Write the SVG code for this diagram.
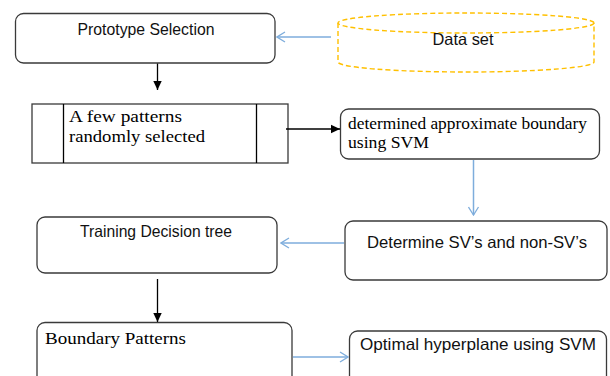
<svg xmlns="http://www.w3.org/2000/svg" width="610" height="376" viewBox="0 0 610 376">
<defs>
<marker id="blueArrow" markerUnits="userSpaceOnUse" markerWidth="12" markerHeight="12" viewBox="0 0 12 12" refX="11" refY="6" orient="auto">
<path d="M3,1 L11,6 L3,11" fill="none" stroke="#7EADDC" stroke-width="1.3"/>
</marker>
<marker id="blackArrow" markerUnits="userSpaceOnUse" markerWidth="10" markerHeight="10" viewBox="0 0 10 10" refX="9" refY="5" orient="auto">
<path d="M0,0.8 L9,5 L0,9.2 Z" fill="#000"/>
</marker>
<style>
.box{fill:#fff;stroke:#3a3a3a;stroke-width:1.3}
.sans{font-family:"Liberation Sans",Arial,sans-serif;font-size:16.5px;fill:#111}
.serif{font-family:"Liberation Serif","Times New Roman",serif;font-size:17.5px;fill:#000}
.blue{stroke:#7EADDC;stroke-width:1.5;fill:none}
.black{stroke:#000;stroke-width:1.3;fill:none}
</style>
</defs>
<g id="prototype-selection">
<rect class="box" x="15.5" y="13.5" width="259.5" height="49.5" rx="8"/>
<text class="sans" x="146" y="35" text-anchor="middle" textLength="137" lengthAdjust="spacingAndGlyphs">Prototype Selection</text>
</g>
<g id="data-set">
<path d="M338,23 L338,62 A128,10 0 0 0 594,62 L594,23" fill="#fff" stroke="#FFC000" stroke-width="1.4" stroke-dasharray="5,3"/>
<ellipse cx="466" cy="23" rx="128" ry="10" fill="#fff" stroke="#FFC000" stroke-width="1.4" stroke-dasharray="5,3"/>
<text class="sans" x="463" y="45" text-anchor="middle" textLength="61" lengthAdjust="spacingAndGlyphs">Data set</text>
</g>
<g id="random-patterns">
<rect class="box" x="32" y="104" width="256" height="59" fill="#fff" stroke="#000"/>
<line x1="63.5" y1="104" x2="63.5" y2="163" stroke="#000" stroke-width="1.3"/>
<line x1="256.5" y1="104" x2="256.5" y2="163" stroke="#000" stroke-width="1.3"/>
<text class="serif" x="69" y="122" textLength="113" lengthAdjust="spacingAndGlyphs">A few patterns</text>
<text class="serif" x="69" y="142" textLength="136" lengthAdjust="spacingAndGlyphs">randomly selected</text>
</g>
<g id="approx-boundary">
<rect class="box" x="340.5" y="109" width="259" height="50" rx="8"/>
<text class="serif" x="348" y="129" textLength="239" lengthAdjust="spacingAndGlyphs">determined approximate boundary</text>
<text class="serif" x="348" y="148" textLength="81" lengthAdjust="spacingAndGlyphs">using SVM</text>
</g>
<g id="training-decision-tree">
<rect class="box" x="37" y="217" width="240" height="56" rx="8"/>
<text class="sans" x="156" y="237" text-anchor="middle" textLength="152" lengthAdjust="spacingAndGlyphs">Training Decision tree</text>
</g>
<g id="determine-sv">
<rect class="box" x="345" y="221" width="262" height="59" rx="8"/>
<text class="sans" x="477" y="248" text-anchor="middle" textLength="220" lengthAdjust="spacingAndGlyphs">Determine SV’s and non-SV’s</text>
</g>
<g id="boundary-patterns">
<rect class="box" x="37" y="322.5" width="255" height="70" rx="8"/>
<text class="serif" x="45" y="344" textLength="141" lengthAdjust="spacingAndGlyphs">Boundary Patterns</text>
</g>
<g id="optimal-hyperplane">
<rect class="box" x="349.5" y="331" width="257" height="60" rx="8"/>
<text class="sans" x="478" y="350" text-anchor="middle" textLength="236" lengthAdjust="spacingAndGlyphs">Optimal hyperplane using SVM</text>
</g>
<g id="connectors">
<line class="blue" x1="331" y1="37" x2="277" y2="37" marker-end="url(#blueArrow)"/>
<line class="black" x1="157.5" y1="63.5" x2="157.5" y2="90" marker-end="url(#blackArrow)"/>
<line class="black" x1="286" y1="129" x2="340" y2="129" marker-end="url(#blackArrow)"/>
<line class="blue" x1="473.5" y1="160" x2="473.5" y2="215" marker-end="url(#blueArrow)"/>
<line class="blue" x1="344" y1="243" x2="281" y2="243" marker-end="url(#blueArrow)"/>
<line class="black" x1="157.5" y1="279" x2="157.5" y2="322" marker-end="url(#blackArrow)"/>
<line class="blue" x1="293" y1="357" x2="348" y2="357" marker-end="url(#blueArrow)"/>
</g>
</svg>
